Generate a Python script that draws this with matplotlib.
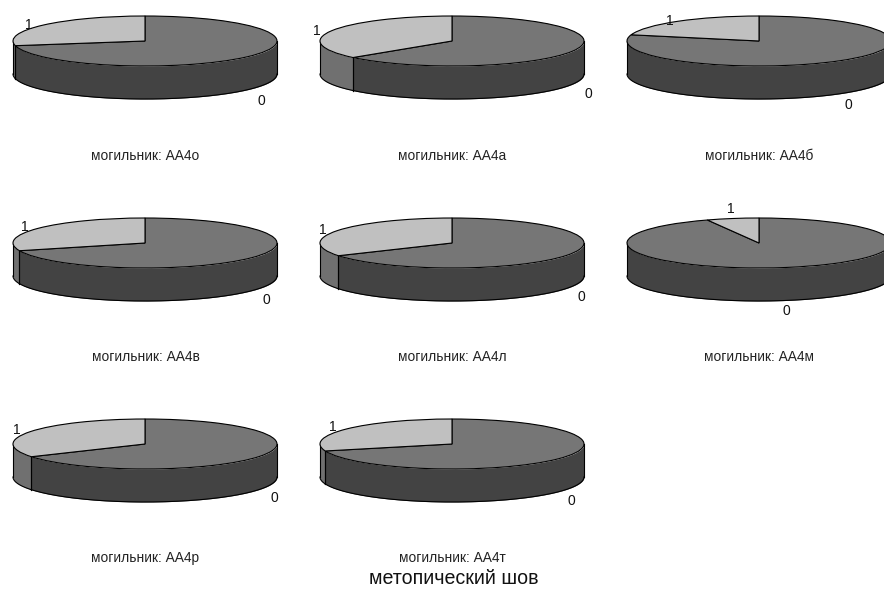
#!/usr/bin/python

import numpy as np
import matplotlib
matplotlib.use("Agg")
import matplotlib.pyplot as plt

plt.rcParams["font.family"] = ["Liberation Sans", "DejaVu Sans"]

W, H = 884, 589

names = ["АА4о", "АА4а", "АА4б", "АА4в", "АА4л", "АА4м", "АА4р", "АА4т"]
# share of category 1 in every cemetery
share1 = [0.28, 0.365, 0.21, 0.30, 0.335, 0.064, 0.335, 0.295]

centers_x = [145, 452, 759, 145, 452, 759, 145, 452]
centers_y = [41, 41, 41, 243, 243, 243, 444, 444]
label1_pos = [(29, 24), (317, 30), (670, 20), (25, 226), (323, 229), (731, 208), (17, 429), (333, 426)]
label0_pos = [(261, 100), (588, 93), (848, 104), (266, 299), (581, 296), (786, 310), (274, 497), (571, 500)]
caption_y = [155, 155, 155, 356, 356, 356, 557, 557]

rx, ry, depth = 132, 25, 33
top_colors = ["#767676", "#c0c0c0"]
side0, side1 = "#434343", "#707070"

fig = plt.figure(figsize=(W/100, H/100), dpi=100)

def side(ax, a, b, d, color):
	t = np.radians(np.linspace(a, b, 200))
	x = np.cos(t)
	y = np.sin(t)
	ax.fill_between(x, y, y - d, color=color, lw=0, clip_on=False, zorder=1)
	ax.plot(x, y - d, color="k", lw=0.8, clip_on=False, zorder=2)
	ax.plot([x[0], x[0]], [y[0], y[0] - d], color="k", lw=0.8, clip_on=False, zorder=2)
	ax.plot([x[-1], x[-1]], [y[-1], y[-1] - d], color="k", lw=0.8, clip_on=False, zorder=2)

for i in range(len(names)):
	cx, cy, s = centers_x[i], centers_y[i], share1[i]
	ax = fig.add_axes([(cx - rx)/W, 1 - (cy + ry)/H, 2*rx/W, 2*ry/H])
	wedges, _ = ax.pie([1 - s, s], colors=top_colors, startangle=90, counterclock=False,
		radius=1, wedgeprops=dict(edgecolor="k", linewidth=0.8))
	for w in wedges:
		w.set_clip_on(False)
		w.set_zorder(3)
	ax.set_aspect("auto")
	ax.set_xlim(-1, 1)
	ax.set_ylim(-1, 1)
	ax.axis("off")

	d = depth/ry
	a = 90 + 360*s
	if a > 180:
		side(ax, 180, a, d, side1)
		side(ax, a, 360, d, side0)
	else:
		side(ax, 180, 360, d, side0)

	fig.text(label1_pos[i][0]/W, 1 - (label1_pos[i][1] + 1)/H, "1", fontsize=10, ha="center", va="center", color="#111111")
	fig.text(label0_pos[i][0]/W, 1 - (label0_pos[i][1] + 1)/H, "0", fontsize=10, ha="center", va="center", color="#111111")
	fig.text((cx + 0.5)/W, 1 - (caption_y[i] + 1)/H, "могильник: " + names[i], fontsize=9.9, ha="center", va="center", color="#222222")

fig.text(453.5/W, 1 - 584/H, "метопический шов", fontsize=14.1, ha="center", va="baseline", color="#111111")

fig.savefig("out.png", dpi=100)
